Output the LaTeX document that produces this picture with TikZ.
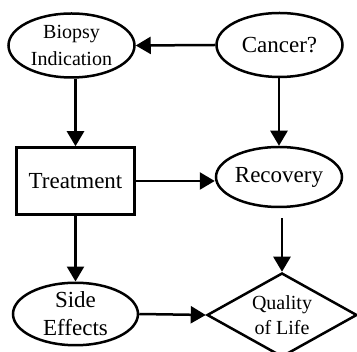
\documentclass[tikz,border=0pt]{standalone}
\usepackage{fontspec}
\setmainfont{Liberation Serif}
\usetikzlibrary{shapes.geometric,arrows.meta}

\tikzset{
  oval/.style={draw, ellipse, line width=2.5pt, inner sep=0pt,
    minimum width=126pt, minimum height=64pt, align=center,
    font=\fontsize{23}{28}\selectfont},
  smalltext/.style={font=\fontsize{20}{27}\selectfont},
  box/.style={draw, rectangle, line width=2.5pt, inner sep=0pt,
    minimum width=118pt, minimum height=67pt,
    font=\fontsize{23}{28}\selectfont},
  decide/.style={draw, diamond, line width=2.5pt, inner sep=0pt, aspect=1.8,
    minimum width=150pt, minimum height=84pt, align=center,
    font=\fontsize{20}{25}\selectfont},
  link/.style={-{Triangle[length=15pt,width=17pt]}, line width=2.5pt}
}

\begin{document}
\begin{tikzpicture}[x=1pt,y=-1pt]
  \useasboundingbox (0,0) rectangle (357,352);

  \node[oval,smalltext] (bio) at (71.5,45.5) {Biopsy\\Indication};
  \node[oval] (cancer) at (279.5,45) {Cancer?};
  \node[box] (treat) at (75.5,181) {Treatment};
  \node[oval,minimum height=60pt] (rec) at (279,177) {Recovery};
  \node[oval,minimum width=125pt,minimum height=62pt] (side) at (75.5,314) {Side\\Effects};
  \node[decide] (qol) at (282,315) {Quality\\of Life};

  \draw[link] (cancer.south -| rec) -- (rec.north);
  \draw[link] (cancer.west) -- (bio.east);
  \draw[link] (bio.south -| treat) -- (treat.north);
  \draw[link] (treat.east) -- (rec.west |- treat.east);
  \draw[link] (treat.south) -- (side.north);
  \draw[link,shorten <=10pt] (rec.south -| qol) -- (qol.north);
  \draw[link] (side.east) -- (qol.west);
\end{tikzpicture}
\end{document}
